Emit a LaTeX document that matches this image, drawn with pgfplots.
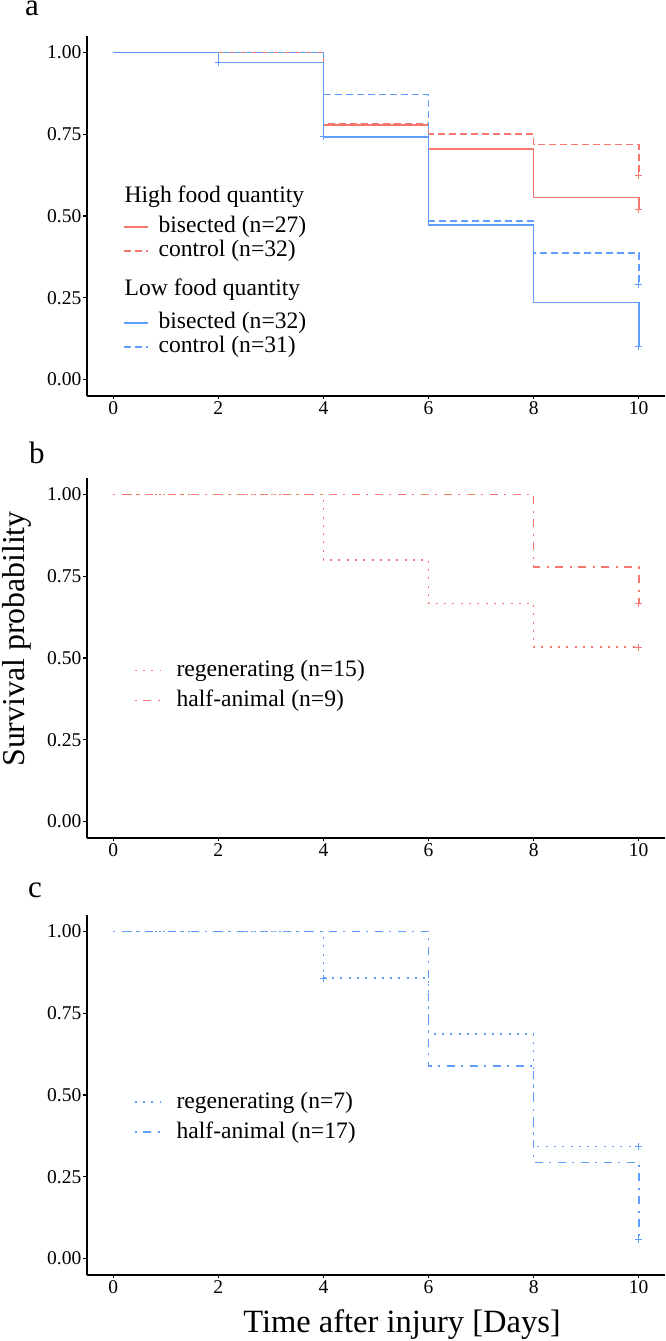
\documentclass[border=0pt]{standalone}
\usepackage{pgfplots}
\pgfplotsset{compat=1.18}
\usepackage{fontspec}
\setmainfont{Liberation Serif}
\definecolor{hred}{HTML}{F8766D}
\definecolor{lblue}{HTML}{619CFF}

\pgfplotsset{
  kmaxis/.style={
    scale only axis, width=578pt, height=360pt,
    xmin=-0.5, xmax=10.5, ymin=-0.05, ymax=1.05,
    axis x line*=bottom, axis y line*=left,
    axis line style={-, line width=1.2pt, black},
    xtick={0,2,4,6,8,10}, ytick={0,0.25,0.5,0.75,1},
    tick align=outside, major tick length=3.5pt,
    tick style={line width=1.2pt, black},
    /pgf/number format/assume math mode=true,
    tick label style={font=\fontsize{19.5}{20}\selectfont, inner sep=2pt},
    yticklabel style={/pgf/number format/.cd, fixed, fixed zerofill, precision=2},
    legend cell align=left,
    legend style={draw=none, fill=none, anchor=north west, inner sep=0pt, outer sep=0pt,
      row sep=0pt, column sep=0pt, font=\fontsize{23.6}{25}\selectfont,
      nodes={inner sep=0pt, outer sep=0pt, text height=18pt, text depth=6pt}},
    title style={anchor=base west, yshift=0pt, inner sep=0pt, font=\fontsize{31}{32}\selectfont},
    clip=false,
  },
  km/.style={const plot, line width=1.6pt, mark=none},
  censor/.style={only marks, mark=+, mark size=3.5pt, mark options={line width=1pt, solid}, forget plot},
  dashA/.style={dash pattern=on 7pt off 4pt},
  dotA/.style={dash pattern=on 2pt off 6.3pt},
  dotdashA/.style={dash pattern=on 2pt off 6.5pt on 8pt off 6.5pt},
}

\begin{document}
\begin{tikzpicture}
\path[use as bounding box] (0pt,0pt) rectangle (666pt,1341pt);

% ---------------- panel a ----------------
\begin{axis}[kmaxis, at={(87pt,945pt)}, anchor=south west,
  title={a}, title style={at={(axis description cs:-0.1073,1.0389)}},
  legend style={at={(axis description cs:0.0623,0.6028)}},
  legend image code/.code={\draw[#1] (0pt,0pt) -- (24pt,0pt);}]
\addlegendimage{empty legend}
\addlegendentry[text height=23.5pt, text depth=12.5pt]{\hspace*{-24pt}High food quantity}
\addplot[km, hred] coordinates {(0,1) (4,0.778) (6,0.704) (8,0.556) (10,0.519)};
\addlegendentry{\hspace*{10pt}bisected (n=27)}
\addplot[km, hred, dashA] coordinates {(0,1) (4,0.781) (6,0.75) (8,0.719) (10,0.625)};
\addlegendentry{\hspace*{10pt}control (n=32)}
\addlegendimage{empty legend}
\addlegendentry[text height=32.5pt, text depth=15.5pt]{\hspace*{-24pt}Low food quantity}
\addplot[km, lblue] coordinates {(0,1) (2,0.969) (4,0.742) (6,0.472) (8,0.236) (10,0.101)};
\addlegendentry{\hspace*{10pt}bisected (n=32)}
\addplot[km, lblue, dashA] coordinates {(0,1) (4,0.871) (6,0.484) (8,0.387) (10,0.29)};
\addlegendentry{\hspace*{10pt}control (n=31)}
\addplot[censor, hred] coordinates {(10,0.519) (10,0.625)};
\addplot[censor, lblue] coordinates {(2,0.969) (4,0.742) (10,0.101) (10,0.29)};
\end{axis}

% ---------------- panel b ----------------
\begin{axis}[kmaxis, at={(87pt,503pt)}, anchor=south west,
  title={b}, title style={at={(axis description cs:-0.1003,1.0222)}},
  ylabel={Survival probability},
  ylabel style={at={(axis description cs:-0.1085,0.5528)}, anchor=base, font=\fontsize{31.8}{33}\selectfont, inner sep=0pt},
  legend style={at={(axis description cs:0.0813,0.5069)}, nodes={text height=21pt, text depth=9pt}},
  legend image code/.code={\draw[#1] (0pt,0pt) -- (26pt,0pt);}]
\addplot[km, hred, dotA] coordinates {(0,1) (4,0.8) (6,0.667) (8,0.533) (10,0.533)};
\addlegendentry{\hspace*{15pt}regenerating (n=15)}
\addplot[km, hred, dotdashA] coordinates {(0,1) (8,0.778) (10,0.667)};
\addlegendentry{\hspace*{15pt}half-animal (n=9)}
\addplot[censor, hred] coordinates {(10,0.533) (10,0.667)};
\end{axis}

% ---------------- panel c ----------------
\begin{axis}[kmaxis, at={(87pt,66pt)}, anchor=south west,
  title={c}, title style={at={(axis description cs:-0.102,1.0333)}},
  xlabel={Time after injury [Days]},
  xlabel style={at={(axis description cs:0.545,-0.161)}, anchor=base, font=\fontsize{32.5}{34}\selectfont, inner sep=0pt},
  legend style={at={(axis description cs:0.0813,0.522)}, nodes={text height=21pt, text depth=9pt}},
  legend image code/.code={\draw[#1] (0pt,0pt) -- (26pt,0pt);}]
\addplot[km, lblue, dotA] coordinates {(0,1) (4,0.857) (6,0.686) (8,0.343) (10,0.343)};
\addlegendentry{\hspace*{15pt}regenerating (n=7)}
\addplot[km, lblue, dotdashA] coordinates {(0,1) (6,0.588) (8,0.294) (10,0.059)};
\addlegendentry{\hspace*{15pt}half-animal (n=17)}
\addplot[censor, lblue] coordinates {(4,0.857) (10,0.343) (10,0.059)};
\end{axis}
\end{tikzpicture}
\end{document}
